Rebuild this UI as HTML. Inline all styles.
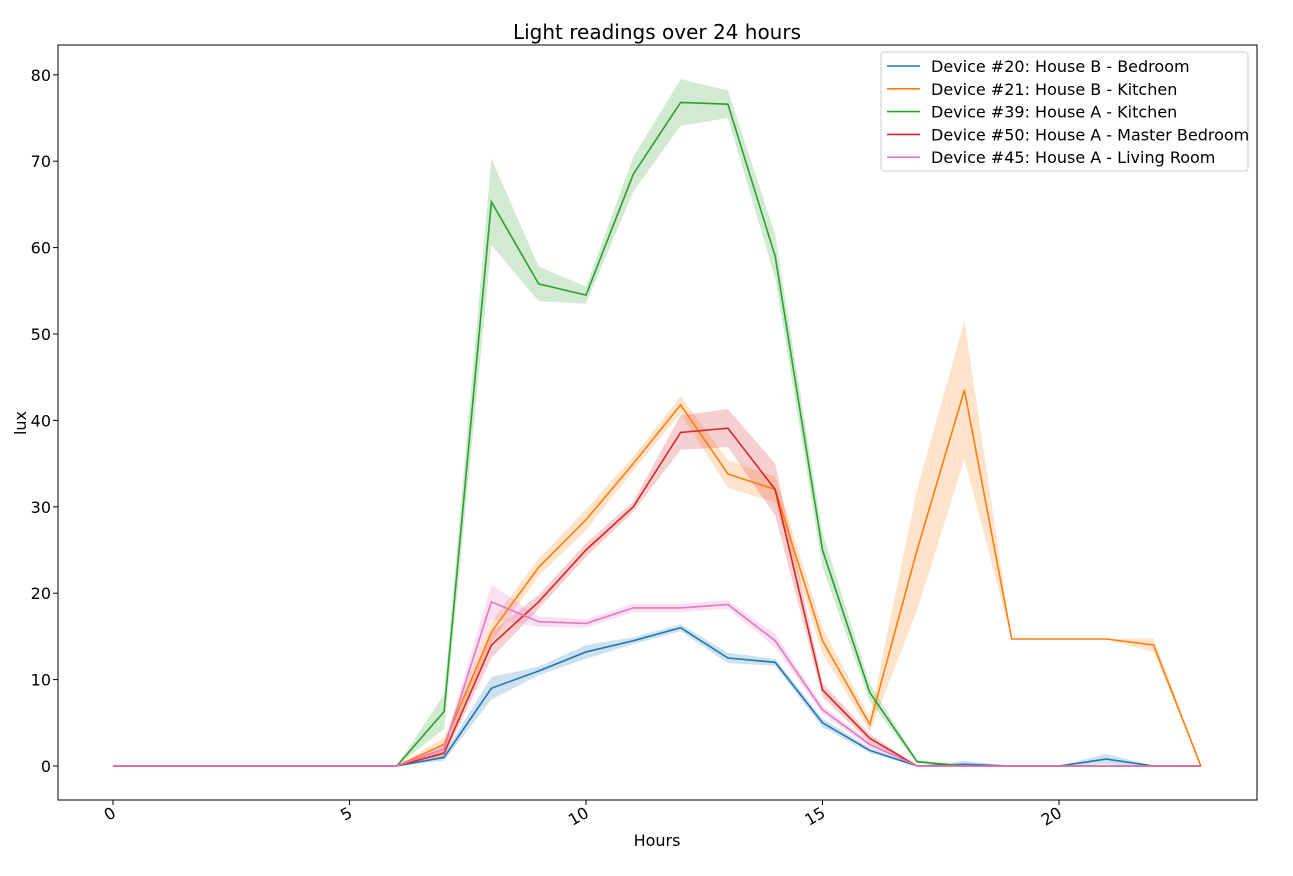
<!DOCTYPE html>
<html><head><meta charset="utf-8"><style>body{margin:0;background:#fff}svg text{font-family:"DejaVu Sans","Liberation Sans",sans-serif;fill:#000}</style></head>
<body>
<svg id="c" width="1293" height="871"></svg>
<script>
const hours=[0,1,2,3,4,5,6,7,8,9,10,11,12,13,14,15,16,17,18,19,20,21,22,23];
const blue=[0,0,0,0,0,0,0,1,9,11,13.2,14.5,16,12.5,12,5,1.8,0,0.2,0,0,0.8,0,0];
const blueCi=[0,0,0,0,0,0,0,0.4,1.3,0.5,0.8,0.4,0.4,0.6,0.4,0.5,0.3,0,0.4,0,0,0.6,0,0];
const orange=[0,0,0,0,0,0,0,2.5,15.5,23,28.5,35,41.8,33.8,32,14.5,4.8,25,43.5,14.7,14.7,14.7,14,0];
const orangeCi=[0,0,0,0,0,0,0,0.8,1.2,1,1.2,0.8,1,1.6,1.5,1.5,0.8,7,8,0,0,0,0.8,0];
const green=[0,0,0,0,0,0,0,6.3,65.3,55.8,54.5,68.5,76.8,76.6,59,25,8.5,0.5,0,0,0,0,0,0];
const greenCi=[0,0,0,0,0,0,0,2,5,2,1,2,2.7,1.6,2.5,2,1,0.2,0,0,0,0,0,0];
const red=[0,0,0,0,0,0,0,1.5,14,19,25,30,38.6,39.1,32,8.8,3.2,0,0,0,0,0,0,0];
const redCi=[0,0,0,0,0,0,0,0.5,1.5,0.8,0.8,0.6,2,2.2,3,0.8,0.5,0,0,0,0,0,0,0];
const pink=[0,0,0,0,0,0,0,2,19,16.7,16.5,18.3,18.3,18.7,14.5,6.5,2.5,0,0,0,0,0,0,0];
const pinkCi=[0,0,0,0,0,0,0,0.6,2,0.6,0.5,0.5,0.5,0.5,0.8,0.5,0.4,0,0,0,0,0,0,0];
const xTicks=[0,5,10,15,20];
const yTicks=[0,10,20,30,40,50,60,70,80];
const seriesNames=["Device #20: House B - Bedroom","Device #21: House B - Kitchen","Device #39: House A - Kitchen","Device #50: House A - Master Bedroom","Device #45: House A - Living Room"];

const NS="http://www.w3.org/2000/svg";
const svg=document.getElementById('c');
const X=v=>113+v*47.3;
const Y=v=>766-v*8.64;
function el(t,a,p){const e=document.createElementNS(NS,t);for(const k in a)e.setAttribute(k,a[k]);(p||svg).appendChild(e);return e;}
const frame=el('rect',{x:58,y:45,width:1199,height:755,fill:'none',stroke:'#000','stroke-width':1});


const t=el('text',{x:657,y:39,'font-size':20,'text-anchor':'middle'});t.textContent='Light readings over 24 hours';


xTicks.forEach(v=>{
  el('line',{x1:X(v),x2:X(v),y1:800,y2:805,stroke:'#000'});
  const tx=el('text',{x:X(v)+4,y:816,'font-size':16,'text-anchor':'end',transform:`rotate(-30 ${X(v)+4} 816)`});tx.textContent=v;
  
  
});
yTicks.forEach(v=>{
  el('line',{x1:53,x2:58,y1:Y(v),y2:Y(v),stroke:'#000'});
  const ty=el('text',{x:51,y:Y(v)+6,'font-size':16,'text-anchor':'end'});ty.textContent=v;
  
  
});
const xl=el('text',{x:657,y:846,'font-size':16,'text-anchor':'middle'});xl.textContent='Hours';


const yl=el('text',{x:26,y:423,'font-size':16,'text-anchor':'middle',transform:'rotate(-90 26 423)'});yl.textContent='lux';


const series=[[blue,blueCi,'#1f77b4'],[orange,orangeCi,'#ff7f0e'],[green,greenCi,'#2ca02c'],[red,redCi,'#d62728'],[pink,pinkCi,'#e377c2']];
series.forEach(([d,ci,c],i)=>{
  let up=hours.map((h,j)=>X(h)+','+Y(d[j]+ci[j]));
  let dn=hours.map((h,j)=>X(h)+','+Y(Math.max(0,d[j]-ci[j]))).reverse();
  const b=el('polygon',{points:up.concat(dn).join(' '),fill:c,'fill-opacity':0.22});
  
  
});
series.forEach(([d,ci,c],i)=>{
  const l=el('polyline',{points:hours.map((h,j)=>X(h)+','+Y(d[j])).join(' '),fill:'none',stroke:c,'stroke-width':1.6});
  
  
});
const lg=el('g',{});


el('rect',{x:881,y:52,width:367,height:119,rx:3,fill:'#fff','fill-opacity':0.8,stroke:'#ccc'},lg);
series.forEach(([d,ci,c],i)=>{
  const y=66+i*22.8;
  el('line',{x1:887,x2:920,y1:y,y2:y,stroke:c,'stroke-width':1.6},lg);
  const tt=el('text',{x:931,y:y+6,'font-size':16},lg);tt.textContent=seriesNames[i];
  
  
});
</script>
</body></html>
